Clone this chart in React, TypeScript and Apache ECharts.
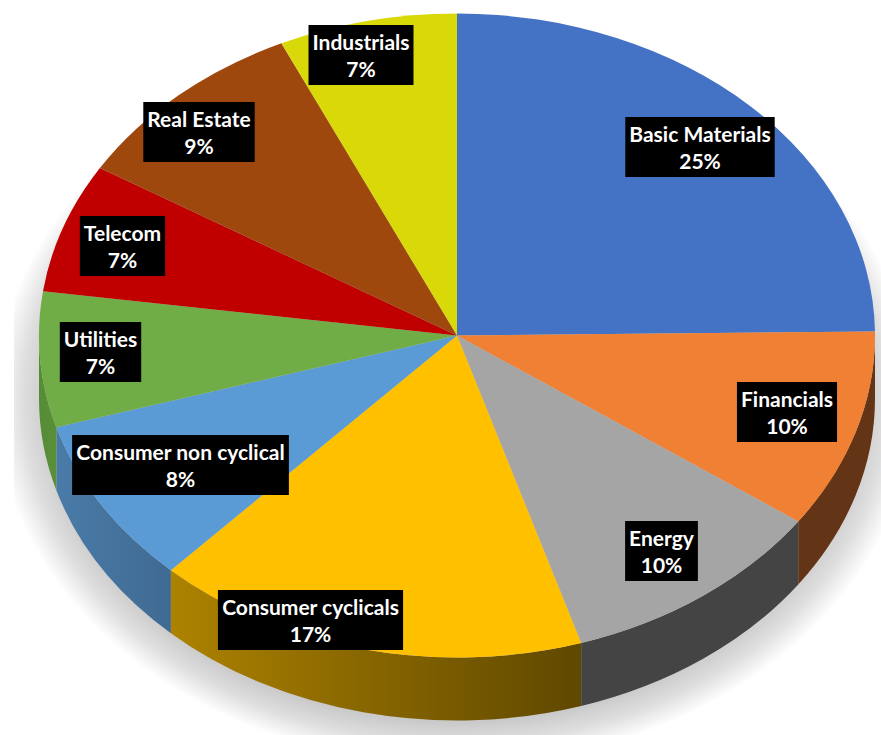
import React, { useEffect, useRef } from "react";
import * as echarts from "echarts";

const categories = [
  "Basic Materials",
  "Financials",
  "Energy",
  "Consumer cyclicals",
  "Consumer non cyclical",
  "Utilities",
  "Telecom",
  "Real Estate",
  "Industrials",
];
const shares = [24.8, 10, 10.4, 16.8, 8.4, 6.8, 6.5, 9.4, 6.9];

const faceColors = ["#4472C4", "#F08033", "#A5A5A5", "#FFC000", "#5B9BD5", "#70AD47", "#C00000", "#9E480E", "#D9D90A"];
const wallColors = [
  ["#2F4F88", "#2F4F88"],
  ["#643416", "#643416"],
  ["#444444", "#444444"],
  ["#AD8200", "#5F4800"],
  ["#4A7BA8", "#3F6A92"],
  ["#568C36", "#5A8F3A"],
  ["#800000", "#800000"],
  ["#6A3009", "#6A3009"],
  ["#90900A", "#90900A"],
];
const labelCentres = [
  [700, 147],
  [787, 412],
  [661.5, 551],
  [310.5, 620],
  [180.5, 465],
  [100.5, 352],
  [122.5, 246],
  [199, 132],
  [361, 55],
];

const CX = 457;
const CY = 335.5;
const RX = 418;
const RY = 322;
const DEPTH = 63;
const total = shares.reduce((a, b) => a + b, 0);

const pt = (t: number, dy = 0) => [CX + RX * Math.sin(t), CY - RY * Math.cos(t) + dy];

function renderSlice(params: any, api: any) {
  const i = params.dataIndex;
  const before = shares.slice(0, i).reduce((a, b) => a + b, 0);
  const a0 = (before / total) * Math.PI * 2;
  const a1 = a0 + (api.value(0) / total) * Math.PI * 2;
  const [x0, y0] = pt(a0);
  const [x1, y1] = pt(a1);
  const large = a1 - a0 > Math.PI ? 1 : 0;
  const children: any[] = [];
  const w0 = Math.max(a0, Math.PI / 2);
  const w1 = Math.min(a1, (Math.PI * 3) / 2);
  if (w1 > w0) {
    const [p0x, p0y] = pt(w0);
    const [p1x, p1y] = pt(w1);
    children.push({
      type: "path",
      shape: {
        pathData: `M${p0x} ${p0y}A${RX} ${RY} 0 0 1 ${p1x} ${p1y}L${p1x} ${p1y + DEPTH}A${RX} ${RY} 0 0 0 ${p0x} ${p0y + DEPTH}Z`,
      },
      style: {
        fill: new echarts.graphic.LinearGradient(0, 0, 1, 0, [
          { offset: 0, color: wallColors[i][0] },
          { offset: 1, color: wallColors[i][1] },
        ]),
      },
    });
  }
  children.push({
    type: "path",
    shape: { pathData: `M${CX} ${CY}L${x0} ${y0}A${RX} ${RY} 0 ${large} 1 ${x1} ${y1}Z` },
    style: { fill: faceColors[i] },
  });
  return { type: "group", children };
}

function renderLabel(params: any, api: any) {
  const i = params.dataIndex;
  const [x, y] = labelCentres[i];
  return {
    type: "text",
    z2: 10,
    style: {
      text: `${categories[i]}\n${Math.round(api.value(0))}%`,
      x,
      y,
      align: "center",
      verticalAlign: "middle",
      fill: "#ffffff",
      fontFamily: "Lato",
      fontWeight: 700,
      fontSize: 21,
      lineHeight: 27,
      backgroundColor: "#000000",
      padding: [3, 4, 3, 4],
      boxShadowBlur: 3,
      boxShadowColor: "rgba(0,0,0,0.5)",
      boxShadowOffsetX: 2,
      boxShadowOffsetY: 2,
    },
  };
}

export default function App() {
  const ref = useRef<HTMLDivElement>(null);
  useEffect(() => {
    const chart = echarts.init(ref.current!, null, { renderer: "svg" });
    const seriesData = shares.map((v, i) => ({ name: categories[i], value: [v] }));
    chart.setOption({
      animation: false,
      backgroundColor: "#ffffff",
      graphic: [
        {
          type: "ellipse",
          z: 0,
          shape: { cx: 455, cy: 400, rx: 460, ry: 365 },
          style: {
            fill: new echarts.graphic.RadialGradient(0.5, 0.5, 0.5, [
              { offset: 0, color: "rgba(201,201,201,1)" },
              { offset: 0.88, color: "rgba(201,201,201,1)" },
              { offset: 0.94, color: "rgba(201,201,201,0.6)" },
              { offset: 1, color: "rgba(201,201,201,0)" },
            ]),
          },
        },
        { type: "rect", z: 1, shape: { x: 0, y: 0, width: 14, height: 735 }, style: { fill: "#ffffff" } },
      ],
      series: [
        {
          type: "custom",
          coordinateSystem: "none",
          z: 2,
          renderItem: renderSlice,
          data: seriesData,
          silent: true,
        },
        {
          type: "custom",
          coordinateSystem: "none",
          z: 3,
          renderItem: renderLabel,
          data: seriesData,
          silent: true,
        },
      ],
    });
    return () => chart.dispose();
  }, []);
  return <div ref={ref} style={{ position: "absolute", left: 0, top: 0, width: 881, height: 735 }} />;
}
